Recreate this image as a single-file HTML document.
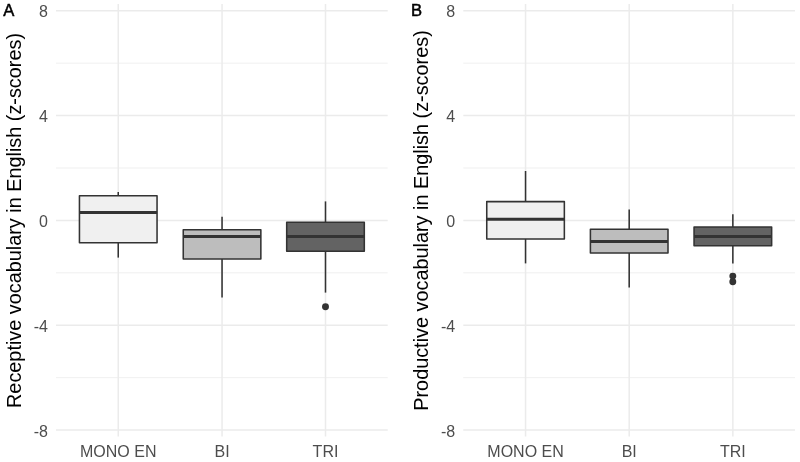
<!DOCTYPE html>
<html><head><meta charset="utf-8"><title>Boxplots</title>
<style>
html,body{margin:0;padding:0;background:#fff;}
svg{display:block;}
text{font-family:"Liberation Sans",sans-serif;}
svg{will-change:transform;}
.tk{font-size:16px;fill:#4d4d4d;}
.ti{font-size:19.85px;fill:#000;}
.tag{font-size:16.6px;fill:#000;stroke:#000;stroke-width:0.5px;}
</style></head>
<body>
<svg width="800" height="462" viewBox="0 0 800 462">
<rect width="800" height="462" fill="#ffffff"/>
<line x1="56.0" x2="387.7" y1="63.16" y2="63.16" stroke="#ebebeb" stroke-width="0.75"/>
<line x1="56.0" x2="387.7" y1="167.99" y2="167.99" stroke="#ebebeb" stroke-width="0.75"/>
<line x1="56.0" x2="387.7" y1="272.81" y2="272.81" stroke="#ebebeb" stroke-width="0.75"/>
<line x1="56.0" x2="387.7" y1="377.64" y2="377.64" stroke="#ebebeb" stroke-width="0.75"/>
<line x1="56.0" x2="387.7" y1="10.75" y2="10.75" stroke="#ebebeb" stroke-width="1.5"/>
<line x1="56.0" x2="387.7" y1="115.58" y2="115.58" stroke="#ebebeb" stroke-width="1.5"/>
<line x1="56.0" x2="387.7" y1="220.40" y2="220.40" stroke="#ebebeb" stroke-width="1.5"/>
<line x1="56.0" x2="387.7" y1="325.23" y2="325.23" stroke="#ebebeb" stroke-width="1.5"/>
<line x1="56.0" x2="387.7" y1="430.05" y2="430.05" stroke="#ebebeb" stroke-width="1.5"/>
<line x1="118.25" x2="118.25" y1="4.0" y2="436.6" stroke="#ebebeb" stroke-width="1.5"/>
<line x1="222.05" x2="222.05" y1="4.0" y2="436.6" stroke="#ebebeb" stroke-width="1.5"/>
<line x1="325.5" x2="325.5" y1="4.0" y2="436.6" stroke="#ebebeb" stroke-width="1.5"/>
<line x1="118.25" x2="118.25" y1="192.0" y2="195.7" stroke="#333333" stroke-width="1.55"/>
<line x1="118.25" x2="118.25" y1="242.7" y2="257.6" stroke="#333333" stroke-width="1.55"/>
<rect x="79.45" y="195.7" width="77.6" height="47.00" fill="#f0f0f0" stroke="#333333" stroke-width="1.55" stroke-linejoin="round"/>
<line x1="79.45" x2="157.05" y1="212.4" y2="212.4" stroke="#333333" stroke-width="3.0"/>
<line x1="222.05" x2="222.05" y1="216.7" y2="229.8" stroke="#333333" stroke-width="1.55"/>
<line x1="222.05" x2="222.05" y1="258.9" y2="297.5" stroke="#333333" stroke-width="1.55"/>
<rect x="183.25" y="229.8" width="77.6" height="29.10" fill="#bdbdbd" stroke="#333333" stroke-width="1.55" stroke-linejoin="round"/>
<line x1="183.25" x2="260.85" y1="236.45" y2="236.45" stroke="#333333" stroke-width="3.0"/>
<line x1="325.5" x2="325.5" y1="201.4" y2="222.2" stroke="#333333" stroke-width="1.55"/>
<line x1="325.5" x2="325.5" y1="251.3" y2="292.6" stroke="#333333" stroke-width="1.55"/>
<rect x="286.7" y="222.2" width="77.6" height="29.10" fill="#636363" stroke="#333333" stroke-width="1.55" stroke-linejoin="round"/>
<line x1="286.7" x2="364.3" y1="236.45" y2="236.45" stroke="#333333" stroke-width="3.0"/>
<circle cx="325.5" cy="306.7" r="3.45" fill="#333333"/>
<text x="48.0" y="17.40" text-anchor="end" class="tk">8</text>
<text x="48.0" y="122.23" text-anchor="end" class="tk">4</text>
<text x="48.0" y="227.05" text-anchor="end" class="tk">0</text>
<text x="48.0" y="331.88" text-anchor="end" class="tk">-4</text>
<text x="48.0" y="436.70" text-anchor="end" class="tk">-8</text>
<text x="118.25" y="456.5" text-anchor="middle" class="tk">MONO EN</text>
<text x="222.05" y="456.5" text-anchor="middle" class="tk">BI</text>
<text x="325.5" y="456.5" text-anchor="middle" class="tk">TRI</text>
<text transform="translate(20.6,220.5) rotate(-90)" text-anchor="middle" class="ti">Receptive vocabulary in English (z-scores)</text>
<text x="3.25" y="16" class="tag">A</text>
<line x1="463.3" x2="795.0" y1="63.16" y2="63.16" stroke="#ebebeb" stroke-width="0.75"/>
<line x1="463.3" x2="795.0" y1="167.99" y2="167.99" stroke="#ebebeb" stroke-width="0.75"/>
<line x1="463.3" x2="795.0" y1="272.81" y2="272.81" stroke="#ebebeb" stroke-width="0.75"/>
<line x1="463.3" x2="795.0" y1="377.64" y2="377.64" stroke="#ebebeb" stroke-width="0.75"/>
<line x1="463.3" x2="795.0" y1="10.75" y2="10.75" stroke="#ebebeb" stroke-width="1.5"/>
<line x1="463.3" x2="795.0" y1="115.58" y2="115.58" stroke="#ebebeb" stroke-width="1.5"/>
<line x1="463.3" x2="795.0" y1="220.40" y2="220.40" stroke="#ebebeb" stroke-width="1.5"/>
<line x1="463.3" x2="795.0" y1="325.23" y2="325.23" stroke="#ebebeb" stroke-width="1.5"/>
<line x1="463.3" x2="795.0" y1="430.05" y2="430.05" stroke="#ebebeb" stroke-width="1.5"/>
<line x1="525.55" x2="525.55" y1="4.0" y2="436.6" stroke="#ebebeb" stroke-width="1.5"/>
<line x1="629.2" x2="629.2" y1="4.0" y2="436.6" stroke="#ebebeb" stroke-width="1.5"/>
<line x1="732.85" x2="732.85" y1="4.0" y2="436.6" stroke="#ebebeb" stroke-width="1.5"/>
<line x1="525.55" x2="525.55" y1="171.0" y2="201.6" stroke="#333333" stroke-width="1.55"/>
<line x1="525.55" x2="525.55" y1="238.9" y2="263.4" stroke="#333333" stroke-width="1.55"/>
<rect x="486.74999999999994" y="201.6" width="77.6" height="37.30" fill="#f0f0f0" stroke="#333333" stroke-width="1.55" stroke-linejoin="round"/>
<line x1="486.74999999999994" x2="564.3499999999999" y1="219.3" y2="219.3" stroke="#333333" stroke-width="3.0"/>
<line x1="629.2" x2="629.2" y1="209.5" y2="229.2" stroke="#333333" stroke-width="1.55"/>
<line x1="629.2" x2="629.2" y1="252.9" y2="287.6" stroke="#333333" stroke-width="1.55"/>
<rect x="590.4000000000001" y="229.2" width="77.6" height="23.70" fill="#bdbdbd" stroke="#333333" stroke-width="1.55" stroke-linejoin="round"/>
<line x1="590.4000000000001" x2="668.0" y1="241.4" y2="241.4" stroke="#333333" stroke-width="3.0"/>
<line x1="732.85" x2="732.85" y1="214.2" y2="227.0" stroke="#333333" stroke-width="1.55"/>
<line x1="732.85" x2="732.85" y1="245.75" y2="263.5" stroke="#333333" stroke-width="1.55"/>
<rect x="694.0500000000001" y="227.0" width="77.6" height="18.75" fill="#636363" stroke="#333333" stroke-width="1.55" stroke-linejoin="round"/>
<line x1="694.0500000000001" x2="771.65" y1="236.45" y2="236.45" stroke="#333333" stroke-width="3.0"/>
<circle cx="732.8" cy="276.1" r="3.45" fill="#333333"/>
<circle cx="732.8" cy="281.8" r="3.45" fill="#333333"/>
<text x="455.2" y="17.40" text-anchor="end" class="tk">8</text>
<text x="455.2" y="122.23" text-anchor="end" class="tk">4</text>
<text x="455.2" y="227.05" text-anchor="end" class="tk">0</text>
<text x="455.2" y="331.88" text-anchor="end" class="tk">-4</text>
<text x="455.2" y="436.70" text-anchor="end" class="tk">-8</text>
<text x="525.55" y="456.5" text-anchor="middle" class="tk">MONO EN</text>
<text x="629.2" y="456.5" text-anchor="middle" class="tk">BI</text>
<text x="732.85" y="456.5" text-anchor="middle" class="tk">TRI</text>
<text transform="translate(427.9,220.5) rotate(-90)" text-anchor="middle" class="ti">Productive vocabulary in English (z-scores)</text>
<text x="410.9" y="16" class="tag">B</text>
</svg>
</body></html>
